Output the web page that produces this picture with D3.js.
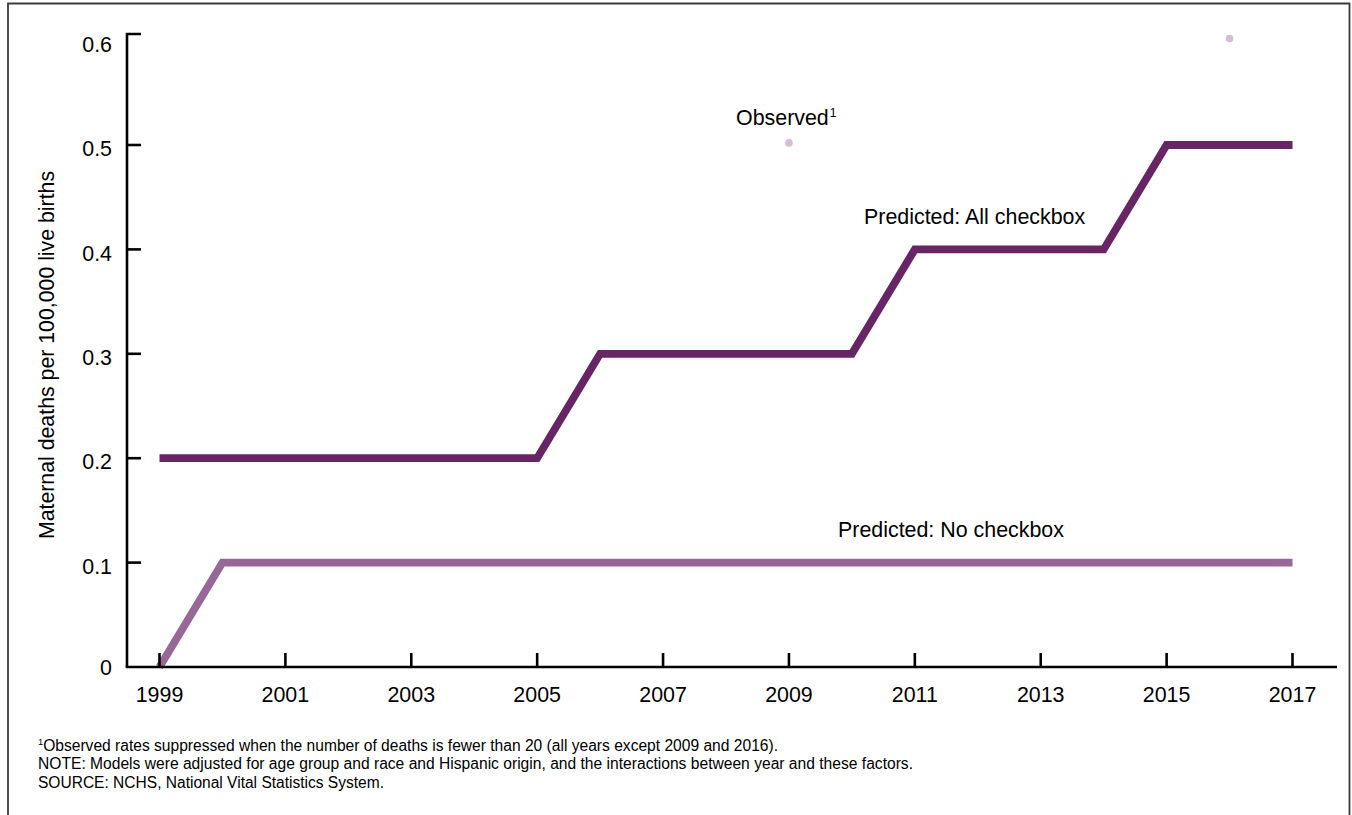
<!DOCTYPE html>
<html>
<head>
<meta charset="utf-8">
<script src="https://cdn.jsdelivr.net/npm/d3@7"></script>
<style>
  html, body { margin: 0; padding: 0; background: #fff; }
  svg { display: block; font-family: "Liberation Sans", Arial, Helvetica, sans-serif; }
</style>
</head>
<body>
<svg id="chart" width="1352" height="815"></svg>
<script>
// Modeled maternal death rates, 1999-2017
const years = [1999, 2000, 2001, 2002, 2003, 2004, 2005, 2006, 2007, 2008,
               2009, 2010, 2011, 2012, 2013, 2014, 2015, 2016, 2017];
const allCheckbox = [0.2, 0.2, 0.2, 0.2, 0.2, 0.2, 0.2, 0.3, 0.3, 0.3,
                     0.3, 0.3, 0.4, 0.4, 0.4, 0.4, 0.5, 0.5, 0.5];
const noCheckbox  = [0.0, 0.1, 0.1, 0.1, 0.1, 0.1, 0.1, 0.1, 0.1, 0.1,
                     0.1, 0.1, 0.1, 0.1, 0.1, 0.1, 0.1, 0.1, 0.1];
// Observed rates are only shown where deaths number 20 or more
const observedYears = [2009, 2016];
const observedRates = [0.502, 0.602];

const xTickYears = [1999, 2001, 2003, 2005, 2007, 2009, 2011, 2013, 2015, 2017];
const yTickValues = [0, 0.1, 0.2, 0.3, 0.4, 0.5, 0.6];
const yTickLabels = ["0", "0.1", "0.2", "0.3", "0.4", "0.5", "0.6"];

const yAxisTitle = "Maternal deaths per 100,000 live births";
const footnotes = [
  ["1", "Observed rates suppressed when the number of deaths is fewer than 20 (all years except 2009 and 2016)."],
  ["", "NOTE: Models were adjusted for age group and race and Hispanic origin, and the interactions between year and these factors."],
  ["", "SOURCE: NCHS, National Vital Statistics System."]
];

const svg = d3.select("#chart");
const fontSize = 21.4;

// Frame
svg.append("path")
  .attr("d", "M8,830 V3.5 H1349.5 V830")
  .attr("fill", "none")
  .attr("stroke", "#3a3a3a")
  .attr("stroke-width", 1.8);

const x = d3.scaleLinear().domain([1999, 2017]).range([159.5, 1292.5]);
const y = d3.scaleLinear().domain([0, 0.6]).range([667, 40.6]);

const axisX0 = 127, axisX1 = 1337, axisTop = 34;
const tickLen = 14;
const axisColor = "#000";

// Series lines
const line = d3.line().x(d => x(d[0])).y(d => y(d[1]));

const series = [
  { values: noCheckbox, color: "#976897" },
  { values: allCheckbox, color: "#672566" }
];
series.forEach(s => {
  svg.append("path")
    .datum(years.map((yr, i) => [yr, s.values[i]]))
    .attr("d", line)
    .attr("fill", "none")
    .attr("stroke", s.color)
    .attr("stroke-width", 7.8)
    .attr("stroke-linejoin", "miter")
    .attr("stroke-linecap", "butt");
});

// Observed points
svg.append("g").selectAll("circle")
  .data(observedYears.map((yr, i) => [yr, observedRates[i]]))
  .join("circle")
  .attr("cx", d => x(d[0]))
  .attr("cy", d => y(d[1]))
  .attr("r", 3.8)
  .attr("fill", "#d5bdd5");

// Y axis: line with a cap at the top, inward ticks
const yAxis = svg.append("g");
yAxis.append("path")
  .attr("d", `M${axisX0 + tickLen},${axisTop} H${axisX0} V${y(0)}`)
  .attr("fill", "none").attr("stroke", axisColor).attr("stroke-width", 2.6);
yAxis.selectAll("line.tick")
  .data(yTickValues.filter(v => v > 0 && v < 0.6))
  .join("line")
  .attr("class", "tick")
  .attr("x1", axisX0).attr("x2", axisX0 + tickLen)
  .attr("y1", d => y(d)).attr("y2", d => y(d))
  .attr("stroke", axisColor).attr("stroke-width", 2.6);
yAxis.selectAll("text")
  .data(yTickValues)
  .join("text")
  .attr("x", 112)
  .attr("y", d => y(d) + (d === 0 ? 0 : 3.5))
  .attr("dy", "0.36em")
  .attr("text-anchor", "end")
  .attr("font-size", fontSize)
  .attr("fill", "#000")
  .text((d, i) => yTickLabels[i]);

// X axis: baseline with upward ticks
const xAxis = svg.append("g");
xAxis.append("line")
  .attr("x1", axisX0 - 1.3).attr("x2", axisX1)
  .attr("y1", y(0)).attr("y2", y(0))
  .attr("stroke", axisColor).attr("stroke-width", 2.6);
xAxis.selectAll("line.tick")
  .data(xTickYears)
  .join("line")
  .attr("class", "tick")
  .attr("x1", d => x(d)).attr("x2", d => x(d))
  .attr("y1", y(0)).attr("y2", y(0) - tickLen)
  .attr("stroke", axisColor).attr("stroke-width", 2.6);
xAxis.selectAll("text")
  .data(xTickYears)
  .join("text")
  .attr("x", d => x(d))
  .attr("y", 702)
  .attr("text-anchor", "middle")
  .attr("font-size", fontSize)
  .attr("fill", "#000")
  .text(d => d);

// Y axis title
svg.append("text")
  .attr("transform", "translate(54,355) rotate(-90)")
  .attr("text-anchor", "middle")
  .attr("font-size", 21.3)
  .attr("fill", "#000")
  .text(yAxisTitle);

// Series annotations
const obs = svg.append("text")
  .attr("x", 736).attr("y", 124.5)
  .attr("font-size", fontSize).attr("fill", "#000");
obs.append("tspan").text("Observed");
obs.append("tspan").attr("font-size", 12).attr("dy", -8).attr("dx", 1).text("1");

svg.append("text")
  .attr("x", 864).attr("y", 224)
  .attr("font-size", fontSize).attr("fill", "#000")
  .text("Predicted: All checkbox");

svg.append("text")
  .attr("x", 838).attr("y", 537)
  .attr("font-size", fontSize).attr("fill", "#000")
  .text("Predicted: No checkbox");

// Footnotes
const noteWidths = [740, 875, 346];
footnotes.forEach((f, i) => {
  const t = svg.append("text")
    .attr("x", 38).attr("y", 750.5 + i * 18.5)
    .attr("font-size", 16).attr("fill", "#000");
  if (f[0]) {
    t.append("tspan").attr("font-size", 9.5).attr("dy", -6).text(f[0]);
    t.append("tspan").attr("dy", 6).text(f[1]);
  } else {
    t.append("tspan").text(f[1]);
  }
  t.attr("textLength", noteWidths[i]).attr("lengthAdjust", "spacingAndGlyphs");
});
</script>
</body>
</html>
